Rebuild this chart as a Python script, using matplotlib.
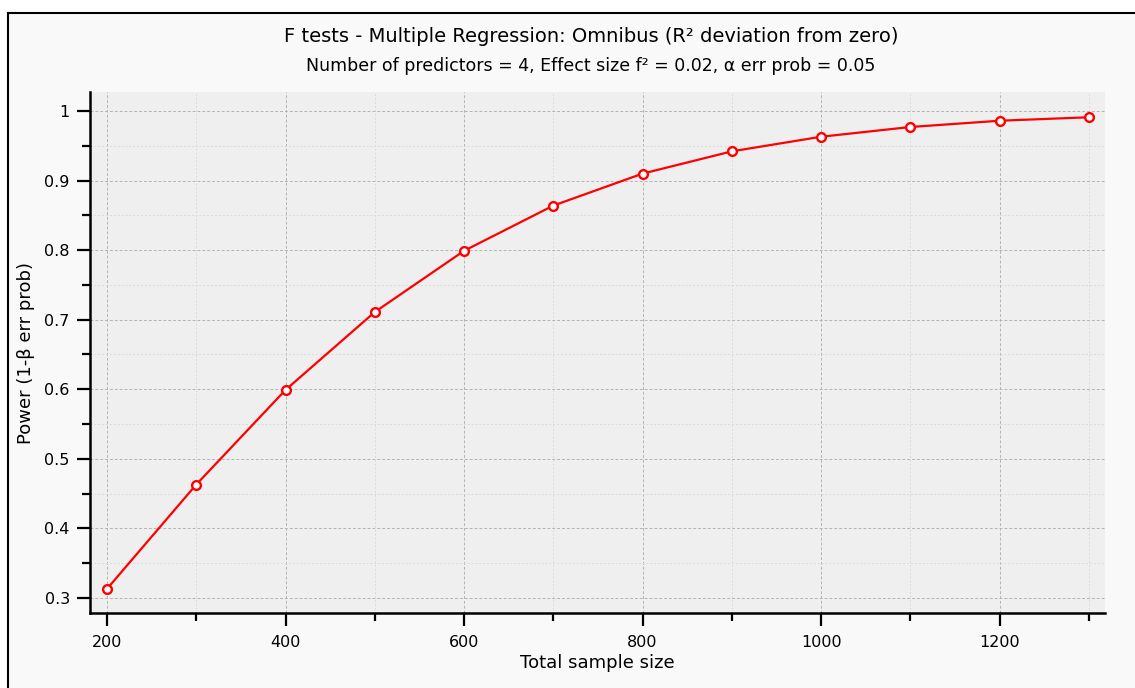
import numpy as np
import matplotlib
matplotlib.use("Agg")
import matplotlib.pyplot as plt
from matplotlib.lines import Line2D
from matplotlib.ticker import FixedLocator

# G*Power style plot: power vs total sample size
sample_size = [200, 300, 400, 500, 600, 700, 800, 900, 1000, 1100, 1200, 1300]
power = [0.313, 0.463, 0.599, 0.711, 0.799, 0.864, 0.910, 0.942, 0.963, 0.977, 0.986, 0.991]

x_major = [200, 400, 600, 800, 1000, 1200]
x_minor = [300, 500, 700, 900, 1100, 1300]
y_major = [0.3, 0.4, 0.5, 0.6, 0.7, 0.8, 0.9, 1.0]
y_minor = [0.35, 0.45, 0.55, 0.65, 0.75, 0.85, 0.95]
y_labels = ["0.3", "0.4", "0.5", "0.6", "0.7", "0.8", "0.9", "1"]

title = "F tests - Multiple Regression: Omnibus (R\u00b2 deviation from zero)"
subtitle = "Number of predictors = 4, Effect size f\u00b2 = 0.02, \u03b1 err prob = 0.05"

W, H = 1135, 688
fig = plt.figure(figsize=(W / 100, H / 100), dpi=100, facecolor="white")

# light panel with a black frame on top/left
fig.patches.append(plt.Rectangle((8 / W, 0), 1, 1 - 13 / H, transform=fig.transFigure,
                                 facecolor="#f9f9f9", edgecolor="none", zorder=-1))
fig.add_artist(Line2D([8 / W, 1], [1 - 13 / H, 1 - 13 / H], color="black", lw=1.5))
fig.add_artist(Line2D([8 / W, 8 / W], [0, 1 - 13 / H], color="black", lw=1.5))

ax = fig.add_axes([90 / W, 1 - 613 / H, (1105 - 90) / W, (613 - 92) / H])
ax.set_facecolor("#efefef")

ax.plot(sample_size, power, color="red", lw=1.6, marker="o", markersize=6.3,
        markerfacecolor="white", markeredgecolor="red", markeredgewidth=1.7, zorder=3)

ax.set_xlim(181, 1318)
ax.set_ylim(0.2784, 1.0273)

ax.xaxis.set_major_locator(FixedLocator(x_major))
ax.xaxis.set_minor_locator(FixedLocator(x_minor))
ax.yaxis.set_major_locator(FixedLocator(y_major))
ax.set_yticklabels(y_labels)
ax.yaxis.set_minor_locator(FixedLocator(y_minor))

ax.grid(which="major", color="#b4b4b4", linestyle=(0, (3, 2)), lw=0.7)
ax.grid(which="minor", color="#dadada", linestyle=(0, (2, 2)), lw=0.7)
ax.set_axisbelow(True)

for s in ["top", "right"]:
    ax.spines[s].set_visible(False)
for s in ["left", "bottom"]:
    ax.spines[s].set_linewidth(1.8)
ax.tick_params(which="major", length=9.5, width=1.6, labelsize=11.5)
ax.tick_params(axis="x", which="major", pad=6)
ax.tick_params(axis="y", which="major", pad=5)
ax.tick_params(which="minor", length=6, width=1.6)

ax.set_xlabel("Total sample size", fontsize=13, labelpad=3)
ax.set_ylabel("Power (1-\u03b2 err prob)", fontsize=13, labelpad=7)

fig.text(591 / W, 1 - 37 / H, title, ha="center", va="center", fontsize=14)
fig.text(591 / W, 1 - 66 / H, subtitle, ha="center", va="center", fontsize=12.5)

fig.savefig("out.png", dpi=100, facecolor=fig.get_facecolor())
